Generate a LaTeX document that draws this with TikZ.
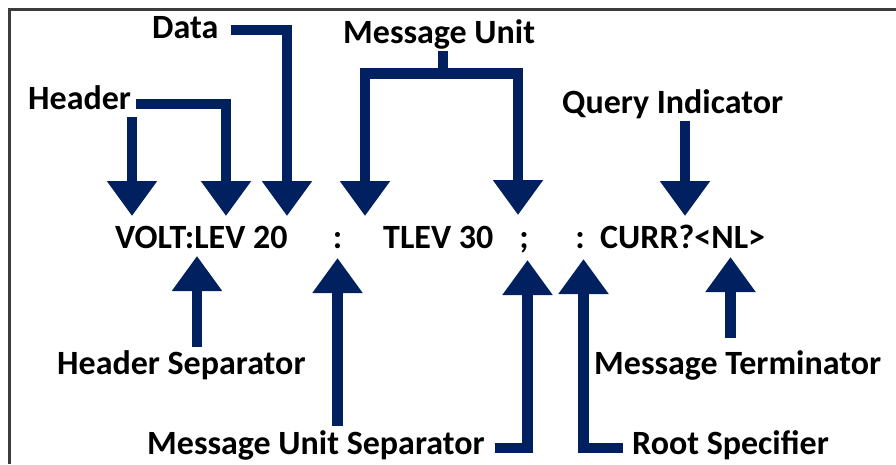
\documentclass[tikz,border=0pt]{standalone}
\usepackage{fontspec}
\setmainfont{Carlito}
\usetikzlibrary{arrows.meta,calc}
\definecolor{navy}{HTML}{002060}
\definecolor{frame}{HTML}{3C3C3C}
\begin{document}
\begin{tikzpicture}[x=1pt,y=-1pt,
  txt/.style={inner sep=0pt,anchor=base west,font=\fontsize{34}{40}\selectfont\bfseries},
  mid/.style={txt,anchor=base},
  ptr/.style={draw=navy,line width=10.5pt,-{Triangle[width=48pt,length=35pt]}},
  bar/.style={draw=navy,line width=10.5pt}]
\useasboundingbox (0,0) rectangle (896,464);
\draw[frame,line width=2.5pt] (896,9.5)--(9.5,9.5)--(9.5,464);

\node[txt] (cmd) at (115,248) {VOLT:LEV 20};
\node[mid] (musc) at (337.5,248) {:};
\node[txt] (tlev) at (383,248) {TLEV 30};
\node[mid] (semi) at (524,248) {;};
\node[mid] (rootc) at (580,248) {:};
\node[txt] (curr) at (600,248) {CURR?<NL>};

\coordinate (inV) at (132,216);
\coordinate (inL) at (226,216);
\coordinate (inD) at (287,216);
\coordinate (inT) at (365,216);
\coordinate (inE) at (518,215);
\coordinate (inQ) at (685,216);
\coordinate (muFork) at (443,73.5);
\coordinate (upH) at (197,256);
\coordinate (upM) at (337.5,258);
\coordinate (upS) at (527.5,260);
\coordinate (upR) at (583.5,259);
\coordinate (upN) at (730.5,257);

\node[txt] (header) at (28,109) {Header};
\draw[ptr] ($(header.south -| inV)+(0,8)$) -- (inV);
\draw[ptr] ($(header.base east)+(5,-5)$) -| (inL);
\node[txt] (data) at (152,38) {Data};
\draw[ptr] ($(data.base east)+(12,-8)$) -| (inD);
\node[txt] (msgunit) at (343,43) {Message Unit};
\draw[bar] ($(msgunit.south -| muFork)+(0,2)$) -- (muFork);
\draw[ptr] (muFork) -| (inT);
\draw[ptr] (muFork) -| (inE);
\node[txt] (query) at (562,113) {Query Indicator};
\draw[ptr] ($(query.south -| inQ)+(0,2)$) -- (inQ);

\node[txt] (hsep) at (57,374) {Header Separator};
\draw[ptr] ($(hsep.north -| upH)+(0,-3)$) -- (upH);
\node[txt] (musep) at (147,454) {Message Unit Separator};
\draw[ptr] ($(musep.north -| upM)+(0,-4)$) -- (upM);
\draw[ptr] ($(musep.base east)+(10,-6)$) -| (upS);
\node[txt] (rootspec) at (632,454) {Root Specifier};
\draw[ptr] ($(rootspec.base west)+(-9,-6)$) -| (upR);
\node[txt] (term) at (594,374) {Message Terminator};
\draw[ptr] ($(term.north -| upN)+(0,-12)$) -- (upN);
\end{tikzpicture}
\end{document}
